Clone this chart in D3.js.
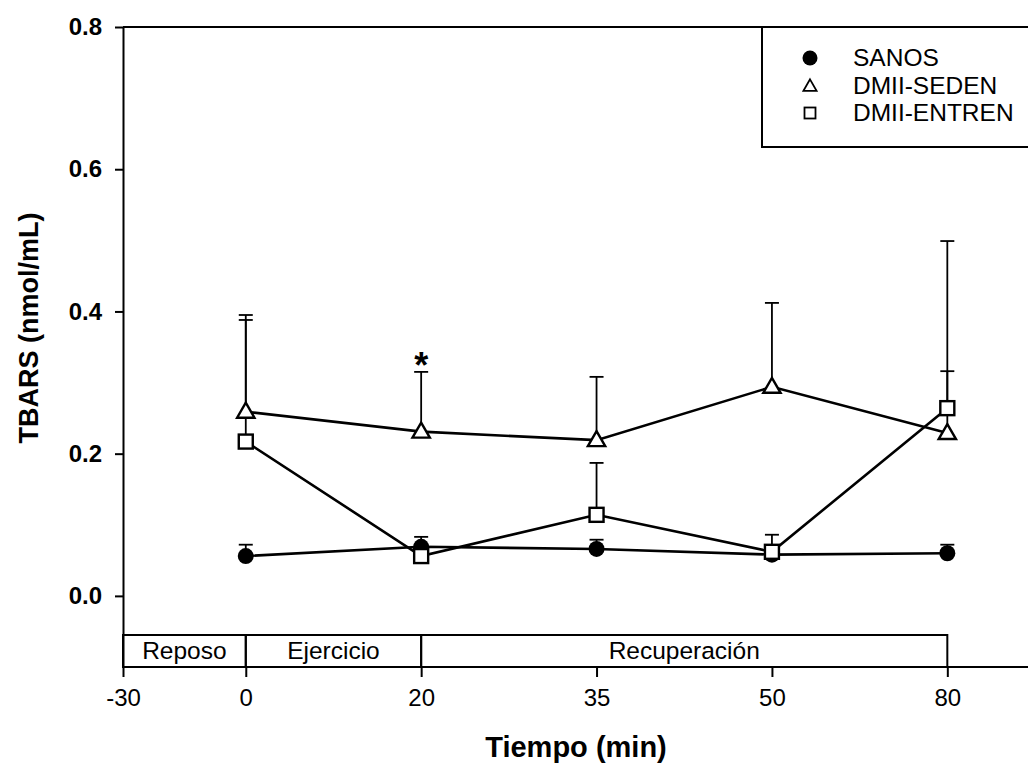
<!DOCTYPE html>
<meta charset="utf-8">
<style>
body { margin: 0; background: #fff; }
svg { font-family: Arial, "Liberation Sans", sans-serif; }
.axis path, .axis line { stroke: #000; stroke-width: 2; fill: none; }
.serie { fill: none; stroke: #000; stroke-width: 2.6; }
.err { stroke: #000; stroke-width: 1.8; }
</style>
<body>
<div id="chart"></div>
<script src="https://d3js.org/d3.v7.min.js"></script>
<script>

// datos
var tiempos = [0, 20, 35, 50, 80];
var xTicks = [-30, 0, 20, 35, 50, 80];
var yTicks = [0, 0.2, 0.4, 0.6, 0.8];

var sanos      = [0.056, 0.069, 0.066, 0.058, 0.060];
var sanosErr   = [0.016, 0.014, 0.013, 0.012, 0.012];
var seden      = [0.259, 0.231, 0.219, 0.294, 0.229];
var sedenErr   = [0.136, 0.084, 0.089, 0.118, 0.087];
var entren     = [0.217, 0.056, 0.114, 0.062, 0.264];
var entrenErr  = [0.171, 0, 0.073, 0.024, 0.235];

var fases      = ["Reposo", "Ejercicio", "Recuperación"];
var faseLimites = [-30, 0, 20, 80];

var serieNombres = ["SANOS", "DMII-SEDEN", "DMII-ENTREN"];

var width = 1028, height = 765,
    margin = {top: 27, right: 0, bottom: 98, left: 123};

var svg = d3.select("#chart").append("svg")
  .attr("width", width)
  .attr("height", height);

// eje x no lineal: -30 ocupa una posicion mas corta
var xSlots = [-0.7, 0, 1, 2, 3, 4];
var slot = d3.scaleLinear().domain([-0.7, 4.46]).range([margin.left, width - margin.right]);
var x = d3.scaleLinear().domain(xTicks).range(xSlots.map(slot));
var y = d3.scaleLinear().domain([-0.1, 0.8]).range([height - margin.bottom, margin.top]);

var y0 = height - margin.bottom;

// caja de fases
var bandTop = y(-0.055);
for (var i = 0; i < fases.length; i++) {
  var a = faseLimites[i], b = faseLimites[i + 1];
  svg.append("rect")
    .attr("x", x(a)).attr("y", bandTop)
    .attr("width", x(b) - x(a)).attr("height", y0 - bandTop)
    .attr("fill", "none").attr("stroke", "#000").attr("stroke-width", 2);
  svg.append("text")
    .attr("x", (x(a) + x(b)) / 2).attr("y", (bandTop + y0) / 2 + 8)
    .attr("text-anchor", "middle").style("font-size", "24.5px")
    .text(fases[i]);
}

// borde superior
svg.append("line")
  .attr("x1", margin.left).attr("x2", width)
  .attr("y1", margin.top).attr("y2", margin.top)
  .attr("stroke", "#000").attr("stroke-width", 2);

// ejes
var gx = svg.append("g")
  .attr("class", "x axis")
  .attr("transform", `translate(0,${y0})`)
  .call(d3.axisBottom(x).tickValues(xTicks).tickFormat(d => String(d)).tickSize(10).tickSizeOuter(0).tickPadding(12));
gx.select(".domain").attr("d", `M${margin.left},0H${width}`);
gx.selectAll("text").attr("fill", "#000")
  .style("font-family", "Arial, 'Liberation Sans', sans-serif").style("font-size", "24px");

var gy = svg.append("g")
  .attr("class", "y axis")
  .attr("transform", `translate(${margin.left},0)`)
  .call(d3.axisLeft(y).tickValues(yTicks).tickFormat(d3.format(".1f")).tickSize(8).tickSizeOuter(0).tickPadding(13));
gy.selectAll("text").attr("fill", "#000")
  .style("font-family", "Arial, 'Liberation Sans', sans-serif").style("font-size", "24px").style("font-weight", "bold");

// titulos
svg.append("text")
  .attr("transform", "translate(38,328) rotate(-90)")
  .attr("text-anchor", "middle")
  .style("font-size", "27px").style("font-weight", "bold")
  .text("TBARS (nmol/mL)");

svg.append("text")
  .attr("x", 576).attr("y", 757)
  .attr("text-anchor", "middle")
  .style("font-size", "29px").style("font-weight", "bold")
  .text("Tiempo (min)");

var series = [
  {nombre: serieNombres[0], v: sanos, e: sanosErr, tipo: "circle"},
  {nombre: serieNombres[1], v: seden, e: sedenErr, tipo: "triangle"},
  {nombre: serieNombres[2], v: entren, e: entrenErr, tipo: "square"}
];

var line = d3.line().x((d, i) => x(tiempos[i])).y(d => y(d));

// barras de error (solo hacia arriba)
series.forEach(function(s) {
  s.v.forEach(function(v, i) {
    if (!s.e[i]) return;
    var cx = x(tiempos[i]);
    svg.append("line").attr("class", "err")
      .attr("x1", cx).attr("x2", cx).attr("y1", y(v)).attr("y2", y(v + s.e[i]));
    svg.append("line").attr("class", "err")
      .attr("x1", cx - 7).attr("x2", cx + 7).attr("y1", y(v + s.e[i])).attr("y2", y(v + s.e[i]));
  });
});

series.forEach(function(s) {
  svg.append("path").attr("class", "serie").attr("d", line(s.v));
});

function marker(g, tipo, cx, cy) {
  if (tipo === "circle") {
    g.append("circle").attr("cx", cx).attr("cy", cy).attr("r", 8).attr("fill", "#000");
  } else if (tipo === "triangle") {
    g.append("path")
      .attr("d", d3.symbol(d3.symbolTriangle, 130)())
      .attr("transform", `translate(${cx},${cy + 1})`)
      .attr("fill", "#fff").attr("stroke", "#000").attr("stroke-width", 2.4);
  } else {
    g.append("rect").attr("x", cx - 7).attr("y", cy - 7).attr("width", 14).attr("height", 14)
      .attr("fill", "#fff").attr("stroke", "#000").attr("stroke-width", 2.4);
  }
}

series.forEach(function(s) {
  s.v.forEach(function(v, i) { marker(svg, s.tipo, x(tiempos[i]), y(v)); });
});

// asterisco
svg.append("text")
  .attr("x", x(20)).attr("y", y(seden[1] + sedenErr[1]) + 6)
  .attr("text-anchor", "middle")
  .style("font-size", "36px").style("font-weight", "bold")
  .text("*");

// leyenda
var leg = svg.append("g");
leg.append("rect").attr("x", 762).attr("y", margin.top).attr("width", 300).attr("height", 120)
  .attr("fill", "#fff").attr("stroke", "#000").attr("stroke-width", 2);
var legY = [58, 86, 113];
series.forEach(function(s, i) {
  var g = leg.append("g");
  if (s.tipo === "circle") {
    g.append("circle").attr("cx", 810).attr("cy", legY[i]).attr("r", 7.5).attr("fill", "#000");
  } else if (s.tipo === "triangle") {
    g.append("path").attr("d", d3.symbol(d3.symbolTriangle, 75)())
      .attr("transform", `translate(810,${legY[i] + 1})`)
      .attr("fill", "#fff").attr("stroke", "#000").attr("stroke-width", 1.8);
  } else {
    g.append("rect").attr("x", 804.5).attr("y", legY[i] - 5.5).attr("width", 11).attr("height", 11)
      .attr("fill", "#fff").attr("stroke", "#000").attr("stroke-width", 1.8);
  }
  g.append("text").attr("x", 853).attr("y", legY[i] + 8)
    .style("font-size", "24.5px").text(s.nombre);
});

</script>
</body>
